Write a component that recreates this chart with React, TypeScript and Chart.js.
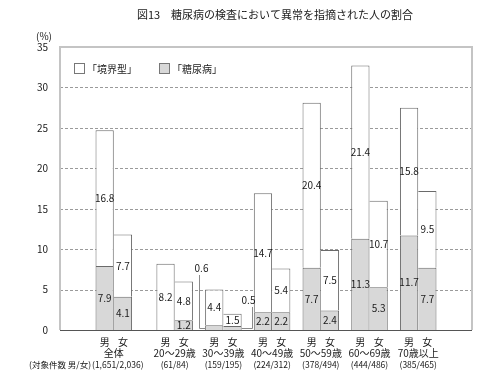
import React, { useEffect, useRef } from 'react';
import { Chart, registerables } from 'chart.js';

Chart.register(...registerables);

const FONT = '"Noto Sans CJK JP", "Noto Sans", sans-serif';

// ---- data ----
const chartTitle = '図13　糖尿病の検査において異常を指摘された人の割合';
const unitLabel = '(%)';
const groups = ['全体', '20～29歳', '30～39歳', '40～49歳', '50～59歳', '60～69歳', '70歳以上'];
const sampleCounts = ['(1,651/2,036)', '(61/84)', '(159/195)', '(224/312)', '(378/494)', '(444/486)', '(385/465)'];
const sampleCaption = '(対象件数 男/女)';
const sexes = ['男', '女'];
const seriesNames = ['「境界型」', '「糖尿病」'];
const maleDiabetes = [7.9, 0, 0.6, 2.2, 7.7, 11.3, 11.7];
const maleBorderline = [16.8, 8.2, 4.4, 14.7, 20.4, 21.4, 15.8];
const femaleDiabetes = [4.1, 1.2, 0.5, 2.2, 2.4, 5.3, 7.7];
const femaleBorderline = [7.7, 4.8, 1.5, 5.4, 7.5, 10.7, 9.5];
const yMin = 0;
const yMax = 35;
const yStep = 5;

// the overall group is set a little apart from the age groups
const groupX = groups.map((_, i) => (i === 0 ? 0 : i + 0.25));

// ---- styles ----
const BORDER = '#6a6a6a';
const DIAB_FILL = '#d8d8d8';
const BL_FILL = '#ffffff';
const FRAME = '#c4c4c4';
const GRID = '#9a9a9a';
const AXIS = '#555555';
const TEXT = '#1a1a1a';

const maleBW = { top: 1, left: 1, right: 1, bottom: 0 };
const femaleBW = { top: 1, left: 0, right: 1, bottom: 0 };

function makeSet(label: string, vals: number[], stack: string, fill: string, bw: any) {
  return {
    label,
    data: groupX.map((x, i) => ({ x, y: vals[i] })),
    stack,
    backgroundColor: fill,
    borderColor: BORDER,
    borderWidth: bw,
    borderSkipped: 'start',
    categoryPercentage: 0.75,
    barPercentage: 1,
  };
}

const seriesValues = [maleDiabetes, maleBorderline, femaleDiabetes, femaleBorderline];

const framePlugin = {
  id: 'frame',
  beforeDatasetsDraw(chart: any) {
    const { ctx, chartArea } = chart;
    const y = chart.scales.y;
    ctx.save();
    ctx.strokeStyle = GRID;
    ctx.lineWidth = 1;
    ctx.setLineDash([3, 2]);
    for (let v = yMin + yStep; v < yMax; v += yStep) {
      const py = Math.round(y.getPixelForValue(v)) + 0.5;
      ctx.beginPath();
      ctx.moveTo(chartArea.left, py);
      ctx.lineTo(chartArea.right, py);
      ctx.stroke();
    }
    ctx.setLineDash([]);
    ctx.strokeStyle = FRAME;
    ctx.lineWidth = 2;
    const top = Math.round(y.getPixelForValue(yMax));
    const bot = Math.round(y.getPixelForValue(yMin));
    ctx.beginPath();
    ctx.moveTo(chartArea.left, bot);
    ctx.lineTo(chartArea.left, top);
    ctx.lineTo(chartArea.right, top);
    ctx.lineTo(chartArea.right, bot);
    ctx.stroke();
    ctx.restore();
  },
  afterDatasetsDraw(chart: any) {
    const { ctx, chartArea } = chart;
    const y = chart.scales.y;
    ctx.save();
    // baseline
    const by = Math.round(y.getPixelForValue(0)) + 0.5;
    ctx.strokeStyle = AXIS;
    ctx.lineWidth = 1;
    ctx.beginPath();
    ctx.moveTo(chartArea.left, by);
    ctx.lineTo(chartArea.right, by);
    ctx.stroke();

    // value labels
    ctx.font = `10px ${FONT}`;
    ctx.fillStyle = TEXT;
    ctx.textAlign = 'center';
    ctx.textBaseline = 'middle';
    seriesValues.forEach((vals, di) => {
      const meta = chart.getDatasetMeta(di);
      meta.data.forEach((el: any, j: number) => {
        const v = vals[j];
        if (!v) return;
        const label = v.toFixed(1);
        const segY = (el.y + el.base) / 2;
        if (v >= 1) {
          ctx.fillText(label, el.x, segY);
          return;
        }
        // small segment: label outside with a leader line
        ctx.strokeStyle = '#8a8a8a';
        ctx.lineWidth = 1;
        const isMale = di < 2;
        const edge = isMale ? el.x - el.width / 2 : el.x + el.width / 2;
        const lx = Math.round(isMale ? edge - 6 : edge + 10) + 0.5;
        const ly = el.base - (isMale ? 62 : 30);
        const sy = Math.round(segY) + 0.5;
        ctx.beginPath();
        ctx.moveTo(edge, sy);
        ctx.lineTo(lx, sy);
        ctx.lineTo(lx, ly + 7);
        ctx.stroke();
        ctx.fillText(label, isMale ? lx + 2 : lx - 4, ly);
      });
    });

    // legend (inside plot)
    const legendItems = [
      { text: seriesNames[0], fill: BL_FILL },
      { text: seriesNames[1], fill: DIAB_FILL },
    ];
    ctx.textAlign = 'left';
    legendItems.forEach((it, k) => {
      const bx = chartArea.left + 14 + k * 85;
      const bw = 11;
      const byy = chartArea.top + 16;
      ctx.fillStyle = it.fill;
      ctx.fillRect(bx, byy, bw, bw);
      ctx.strokeStyle = '#777';
      ctx.strokeRect(bx + 0.5, byy + 0.5, bw - 1, bw - 1);
      ctx.fillStyle = TEXT;
      ctx.fillText(it.text, bx + bw + 2, byy + bw / 2 + 0.5);
    });

    // x labels
    const mMeta = chart.getDatasetMeta(0);
    const fMeta = chart.getDatasetMeta(2);
    ctx.textAlign = 'center';
    let firstCountLeft = 0;
    groups.forEach((g, j) => {
      const mx = mMeta.data[j].x;
      const fx = fMeta.data[j].x;
      const cx = (mx + fx) / 2;
      ctx.font = `10px ${FONT}`;
      ctx.fillText(sexes[0], mx, chartArea.bottom + 12);
      ctx.fillText(sexes[1], fx, chartArea.bottom + 12);
      ctx.fillText(g, cx, chartArea.bottom + 23);
      ctx.font = `8.5px ${FONT}`;
      const ccx = cx + (j === 0 ? 4 : 0);
      ctx.fillText(sampleCounts[j], ccx, chartArea.bottom + 35);
      if (j === 0) firstCountLeft = ccx - ctx.measureText(sampleCounts[j]).width / 2;
    });
    ctx.textAlign = 'right';
    ctx.font = `8.5px ${FONT}`;
    ctx.fillText(sampleCaption, firstCountLeft - 1, chartArea.bottom + 35);

    // unit
    ctx.textAlign = 'center';
    ctx.font = `10px ${FONT}`;
    ctx.fillText(unitLabel, chartArea.left - 16, chartArea.top - 11);

    // title
    ctx.font = `11px ${FONT}`;
    ctx.fillText(chartTitle, 275, 15);
    ctx.restore();
  },
};

export default function App() {
  const ref = useRef<HTMLCanvasElement | null>(null);
  useEffect(() => {
    document.body.style.margin = '0';
    const canvas = ref.current;
    if (!canvas) return;
    const chart = new Chart(canvas, {
      type: 'bar',
      data: {
        datasets: [
          makeSet('男 糖尿病', maleDiabetes, 'm', DIAB_FILL, maleBW),
          makeSet('男 境界型', maleBorderline, 'm', BL_FILL, maleBW),
          makeSet('女 糖尿病', femaleDiabetes, 'f', DIAB_FILL, femaleBW),
          makeSet('女 境界型', femaleBorderline, 'f', BL_FILL, femaleBW),
        ] as any,
      },
      options: {
        animation: false,
        responsive: false,
        devicePixelRatio: 1,
        layout: { padding: { left: 8, right: 15, top: 47, bottom: 44 } },
        plugins: {
          legend: { display: false },
          title: { display: false },
          tooltip: { enabled: false },
        },
        scales: {
          x: {
            type: 'linear',
            display: false,
            stacked: true,
            min: groupX[0] - 0.5,
            max: groupX[groupX.length - 1] + 0.5,
            afterBuildTicks: (s: any) => {
              s.ticks = groupX.map((v) => ({ value: v }));
            },
          },
          y: {
            stacked: true,
            min: yMin,
            max: yMax,
            ticks: {
              stepSize: yStep,
              padding: 4,
              color: TEXT,
              font: { family: FONT, size: 10 },
            },
            grid: { display: false },
            border: { display: false },
            afterFit: (s: any) => {
              s.width = 52;
            },
          },
        },
      } as any,
      plugins: [framePlugin],
    });
    return () => chart.destroy();
  }, []);
  return (
    <div style={{ width: 487, height: 374 }}>
      <canvas ref={ref} width={487} height={374} />
    </div>
  );
}
